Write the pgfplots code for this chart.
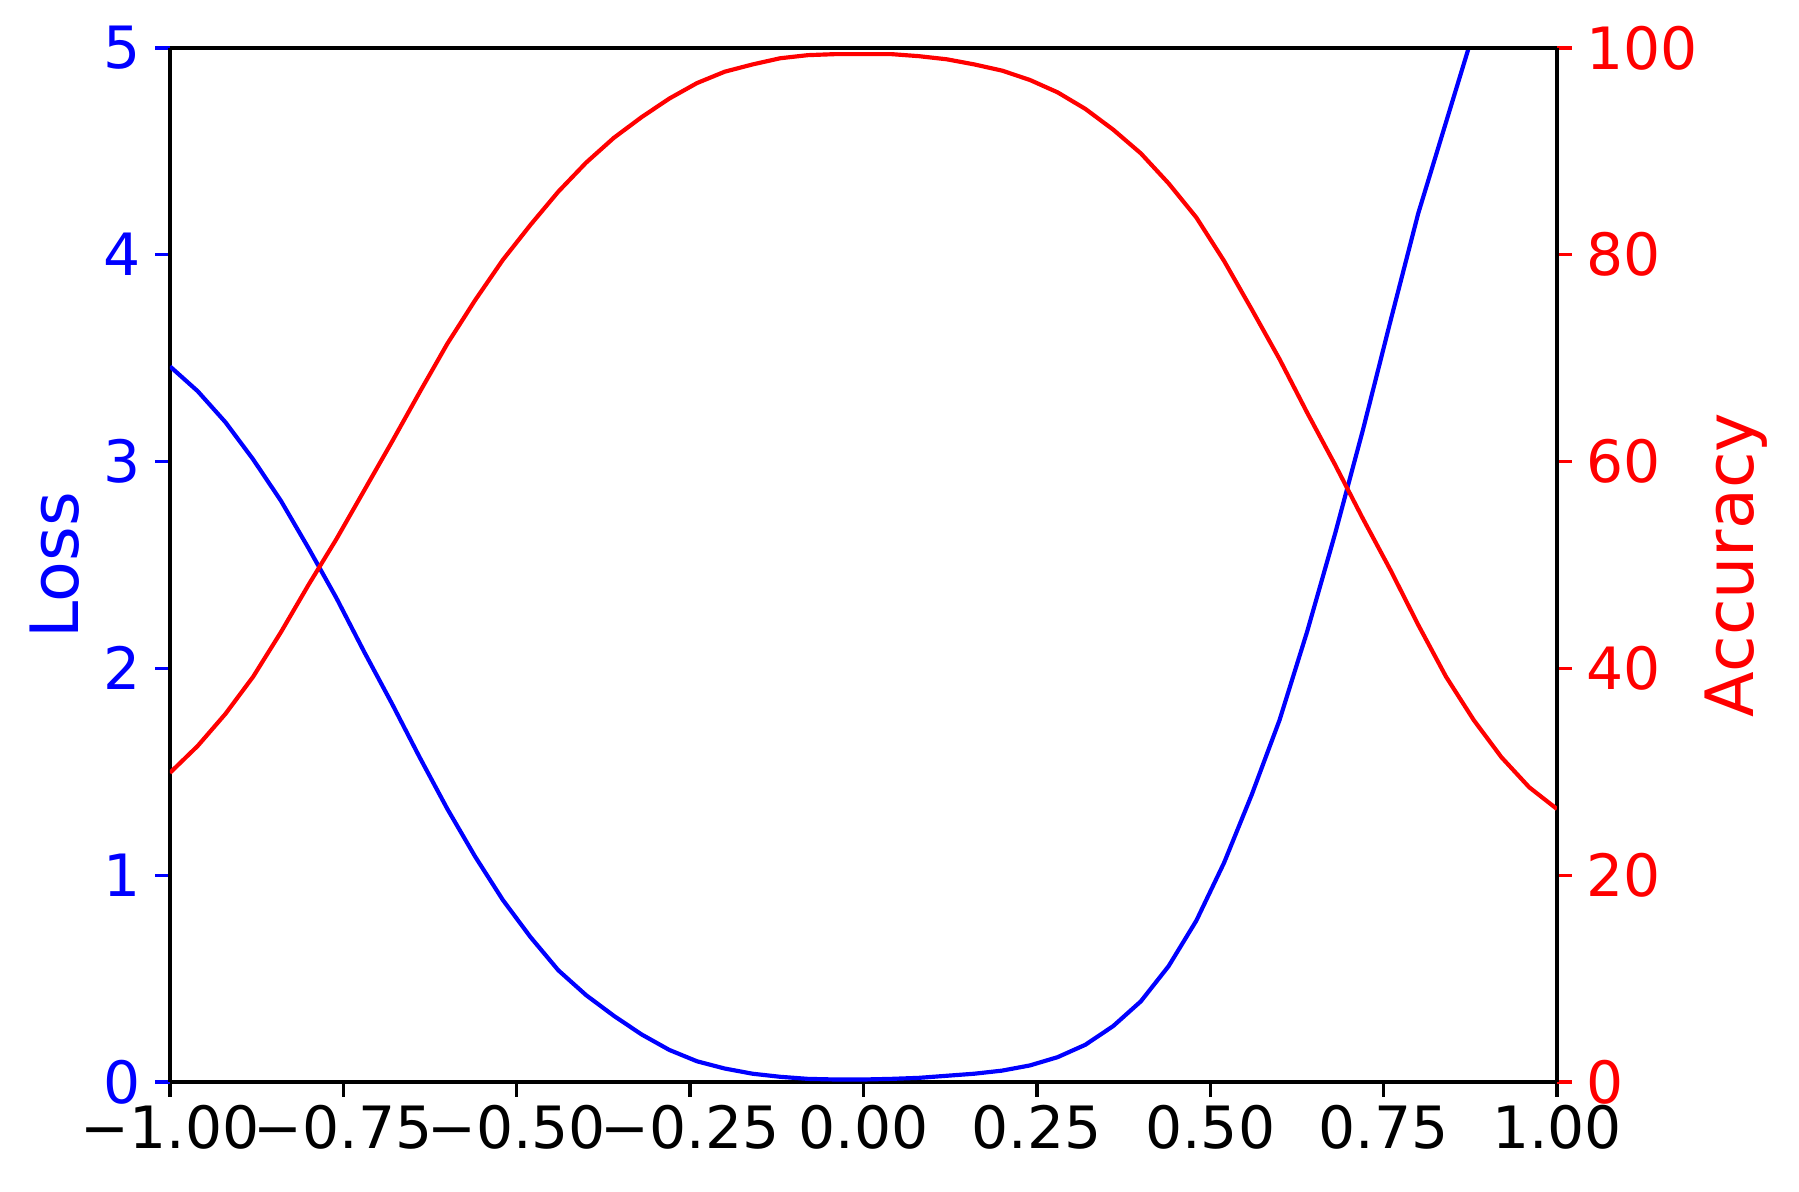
\documentclass[border=0pt]{standalone}
\usepackage{fontspec}
\setmainfont{DejaVu Sans}
\usepackage{pgfplots}
\pgfplotsset{compat=1.18}

\pgfplotstableread{
x     loss
-1.00 3.46
-0.96 3.34
-0.92 3.19
-0.88 3.01
-0.84 2.81
-0.80 2.58
-0.76 2.34
-0.72 2.08
-0.68 1.83
-0.64 1.57
-0.60 1.32
-0.56 1.09
-0.52 0.88
-0.48 0.70
-0.44 0.54
-0.40 0.42
-0.36 0.32
-0.32 0.23
-0.28 0.155
-0.24 0.10
-0.20 0.065
-0.16 0.04
-0.12 0.025
-0.08 0.015
-0.04 0.012
0.00  0.012
0.04  0.015
0.08  0.02
0.12  0.03
0.16  0.04
0.20  0.055
0.24  0.08
0.28  0.12
0.32  0.18
0.36  0.27
0.40  0.39
0.44  0.56
0.48  0.78
0.52  1.06
0.56  1.39
0.60  1.75
0.64  2.18
0.68  2.65
0.72  3.15
0.76  3.68
0.80  4.20
0.84  4.64
0.88  5.08
}\losstable

\pgfplotstableread{
x     acc
-1.00 29.9
-0.96 32.5
-0.92 35.6
-0.88 39.2
-0.84 43.5
-0.80 48.1
-0.76 52.5
-0.72 57.2
-0.68 61.9
-0.64 66.7
-0.60 71.4
-0.56 75.6
-0.52 79.5
-0.48 82.9
-0.44 86.1
-0.40 88.9
-0.36 91.3
-0.32 93.3
-0.28 95.1
-0.24 96.6
-0.20 97.7
-0.16 98.4
-0.12 99.0
-0.08 99.3
-0.04 99.4
0.00  99.4
0.04  99.4
0.08  99.2
0.12  98.9
0.16  98.4
0.20  97.8
0.24  96.9
0.28  95.7
0.32  94.1
0.36  92.1
0.40  89.8
0.44  86.9
0.48  83.6
0.52  79.4
0.56  74.7
0.60  69.9
0.64  64.7
0.68  59.7
0.72  54.5
0.76  49.5
0.80  44.2
0.84  39.2
0.88  35.0
0.92  31.4
0.96  28.5
1.00  26.4
}\acctable

\begin{document}
\begin{tikzpicture}
\useasboundingbox (-40.8bp,-26.2bp) rectangle (391.0bp,259.7bp);
\pgfplotsset{
  every axis/.append style={
    scale only axis,
    width=332.9bp, height=248.2bp,
    at={(0,0)}, anchor=south west,
    xmin=-1, xmax=1,
    axis line style={line width=0.8bp},
    tick style={black, line width=0.8bp},
    major tick length=3.5bp,
    tick align=outside,
    tick label style={font=\fontsize{14bp}{16bp}\selectfont},
    label style={font=\fontsize{16bp}{19bp}\selectfont},
    /pgf/number format/assume math mode=true,
  },
}
\begin{axis}[
  axis y line*=left,
  axis x line*=bottom,
  ymin=0, ymax=5,
  ytick={0,1,2,3,4,5},
  xtick={-1,-0.75,-0.5,-0.25,0,0.25,0.5,0.75,1},
  xticklabels={−1.00,−0.75,−0.50,−0.25,0.00,0.25,0.50,0.75,1.00},
  xticklabel style={yshift=1.5bp},
  xtick style={black, line width=0.8bp},
  ytick style={blue, line width=0.8bp},
  yticklabel style={text=blue},
  ylabel={Loss},
  ylabel style={text=blue, at={(axis description cs:-0.083,0.5)}, anchor=center},
]
\addplot[blue, line width=1bp] table[x=x, y=loss] {\losstable};
\end{axis}
\begin{axis}[
  axis y line*=right,
  axis x line=none,
  ymin=0, ymax=100,
  ytick={0,20,40,60,80,100},
  ytick style={red, line width=0.8bp},
  yticklabel style={text=red},
  ylabel={Accuracy},
  ylabel style={text=red, at={(axis description cs:1.129,0.5)}, anchor=center, rotate=0},
]
\addplot[red, line width=1bp] table[x=x, y=acc] {\acctable};
\end{axis}
\draw[line width=0.8bp] (0,248.2bp) -- (332.9bp,248.2bp);
\end{tikzpicture}
\end{document}
